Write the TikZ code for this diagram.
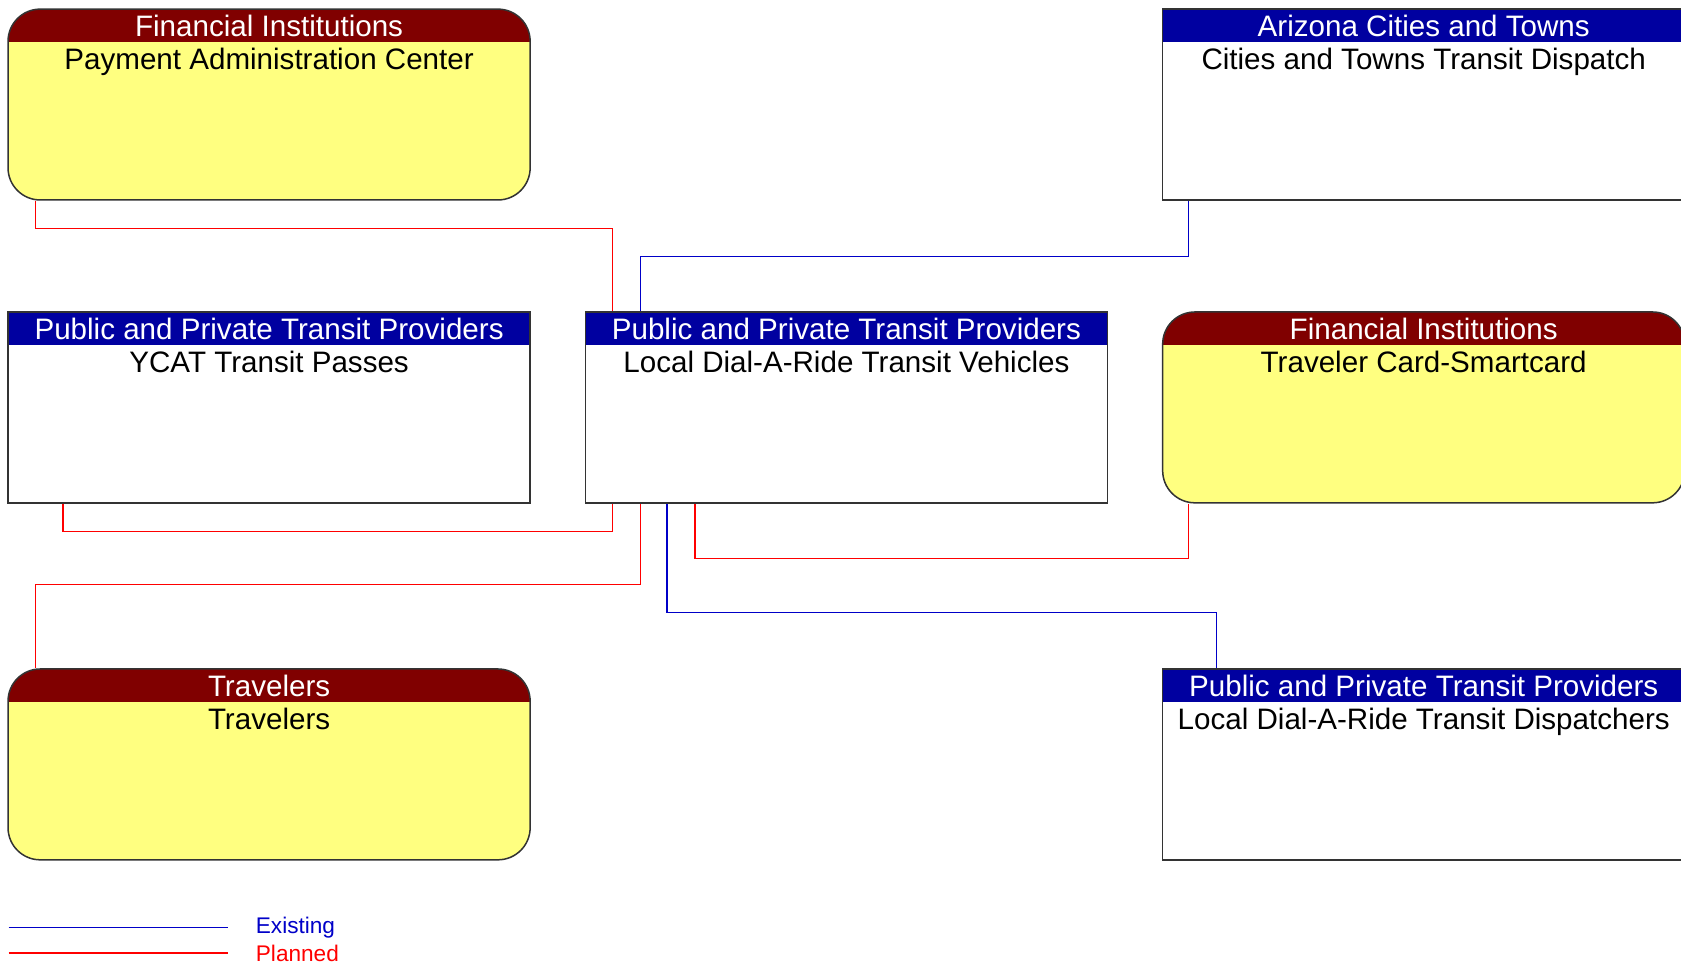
\documentclass[tikz,border=0pt]{standalone}
\usepackage{fontspec}
\setmainfont{Liberation Sans}
\usepackage{xcolor}
\usepackage{tikz}
\usetikzlibrary{positioning}

\definecolor{hdrBlue}{RGB}{0,0,160}
\definecolor{hdrMaroon}{RGB}{128,0,0}
\definecolor{termYellow}{RGB}{255,255,128}
\definecolor{existBlue}{RGB}{0,0,200}
\definecolor{planRed}{RGB}{255,0,0}

\tikzset{
  flatbox/.style={draw=black!80, line width=0.4pt, fill=white, minimum width=4.87cm, minimum height=1.78cm,
    path picture={\fill[hdrBlue, sharp corners] (path picture bounding box.north west) rectangle ([yshift=-0.31cm]path picture bounding box.north east);}},
  termbox/.style={draw=black!80, line width=0.4pt, fill=termYellow, rounded corners=0.3cm, minimum width=4.87cm, minimum height=1.78cm,
    path picture={\fill[hdrMaroon, sharp corners] (path picture bounding box.north west) rectangle ([yshift=-0.31cm]path picture bounding box.north east);}},
  hdrtxt/.style={text=white, anchor=base, inner sep=0pt, font=\fontsize{7.85}{9}\selectfont},
  bodytxt/.style={text=black, anchor=base, inner sep=0pt, font=\fontsize{7.85}{9}\selectfont},
  existing/.style={draw=existBlue, line width=0.35pt},
  planned/.style={draw=planRed, line width=0.35pt},
  legtxt/.style={anchor=west, inner sep=0pt, font=\fontsize{6}{7}\selectfont}
}

\begin{document}
\begin{tikzpicture}[node distance=5.385cm, on grid]
    \useasboundingbox (0,0) rectangle (15.68,-9.00);

    % boxes
    \node[flatbox] (veh) at (7.895,-3.80) {};
    \node[flatbox] (ycat) [left=of veh] {};
    \node[termbox] (card) [right=of veh] {};
    \node[termbox] (pay) [above=2.825cm of ycat] {};
    \node[termbox] (trv) [below=3.33cm of ycat] {};
    \node[flatbox] (cty) [above=2.825cm of card] {};
    \node[flatbox] (dsp) [below=3.33cm of card] {};

    % titles
    \node[hdrtxt] (vehH) at ([yshift=-0.26cm]veh.north) {Public and Private Transit Providers};
    \node[bodytxt] (vehB) at ([yshift=-0.57cm]veh.north) {Local Dial-A-Ride Transit Vehicles};
    \node[hdrtxt] (ycatH) at ([yshift=-0.26cm]ycat.north) {Public and Private Transit Providers};
    \node[bodytxt] (ycatB) at ([yshift=-0.57cm]ycat.north) {YCAT Transit Passes};
    \node[hdrtxt] (cardH) at ([yshift=-0.26cm]card.north) {Financial Institutions};
    \node[bodytxt] (cardB) at ([yshift=-0.57cm]card.north) {Traveler Card-Smartcard};
    \node[hdrtxt] (payH) at ([yshift=-0.26cm]pay.north) {Financial Institutions};
    \node[bodytxt] (payB) at ([yshift=-0.57cm]pay.north) {Payment Administration Center};
    \node[hdrtxt] (trvH) at ([yshift=-0.26cm]trv.north) {Travelers};
    \node[bodytxt] (trvB) at ([yshift=-0.57cm]trv.north) {Travelers};
    \node[hdrtxt] (ctyH) at ([yshift=-0.26cm]cty.north) {Arizona Cities and Towns};
    \node[bodytxt] (ctyB) at ([yshift=-0.57cm]cty.north) {Cities and Towns Transit Dispatch};
    \node[hdrtxt] (dspH) at ([yshift=-0.26cm]dsp.north) {Public and Private Transit Providers};
    \node[bodytxt] (dspB) at ([yshift=-0.57cm]dsp.north) {Local Dial-A-Ride Transit Dispatchers};

    % flows
    \draw[planned] ([xshift=0.26cm]pay.south west) -- ++(0,-0.26) -| ([xshift=0.26cm]veh.north west);
    \draw[existing] ([xshift=0.25cm]cty.south west) -- ++(0,-0.52) -| ([xshift=0.52cm]veh.north west);
    \draw[planned] ([xshift=0.52cm]ycat.south west) -- ++(0,-0.26) -| ([xshift=0.26cm]veh.south west);
    \draw[planned] ([xshift=0.26cm]trv.north west) -- ++(0,0.78) -| ([xshift=0.52cm]veh.south west);
    \draw[planned] ([xshift=0.25cm]card.south west) -- ++(0,-0.51) -| ([xshift=1.03cm]veh.south west);
    \draw[existing] ([xshift=0.51cm]dsp.north west) -- ++(0,0.52) -| ([xshift=0.77cm]veh.south west);

    % legend
    \coordinate (exA) at (0.08,-8.65);
    \coordinate (exB) at (2.13,-8.65);
    \coordinate (plA) at (0.08,-8.89);
    \coordinate (plB) at (2.13,-8.89);
    \draw[existing] (exA) -- (exB);
    \draw[planned] (plA) -- (plB);
    \node[legtxt, text=existBlue] (exT) at (2.38,-8.65) {Existing};
    \node[legtxt, text=planRed] (plT) at (2.38,-8.89) {Planned};
\end{tikzpicture}
\end{document}
